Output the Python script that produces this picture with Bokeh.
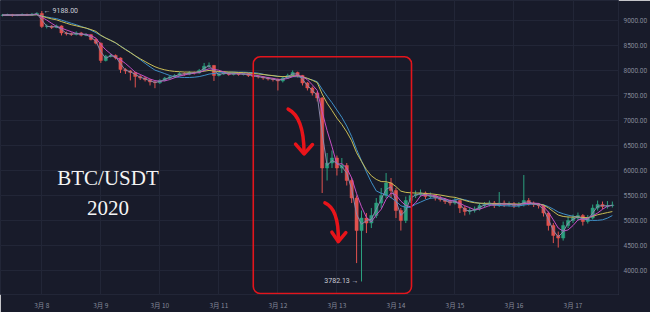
import numpy as np
import pandas as pd
from bokeh.plotting import figure
from bokeh.models import Range1d, FixedTicker, NumeralTickFormatter, BoxAnnotation, ColumnDataSource
from bokeh.core.properties import value
from bokeh.embed import file_html
from bokeh.resources import INLINE

# ---------------- data (2-hour candles, BTC/USDT, March 2020, UTC+8) ----------------
start_time = "2020-03-07 08:00"
first_open = 9100
closes = [9105, 9112, 9098, 9110, 9118, 9106, 9124, 9140, 8880, 8885,
          8860, 8890, 8750, 8735, 8720, 8750, 8705, 8715, 8620, 8545,
          8200, 8285, 8300, 8250, 8020, 7990, 7960, 7880, 7850, 7815,
          7770, 7755, 7800, 7845, 7870, 7900, 7940, 7925, 7960, 7950,
          8000, 8085, 8100, 7900, 7930, 7955, 7920, 7945, 7920, 7935,
          7900, 7880, 7870, 7850, 7830, 7820, 7790, 7850, 7900, 7960,
          7900, 7750, 7650, 7550, 7450, 6050, 6150, 6250, 6050, 6100,
          5800, 5450, 4800, 5050, 4950, 5100, 5350, 5500, 5750, 5600,
          5200, 5000, 5400, 5500, 5520, 5550, 5480, 5500, 5450, 5420,
          5380, 5350, 5400, 5250, 5180, 5200, 5230, 5300, 5320, 5350,
          5300, 5350, 5320, 5330, 5300, 5320, 5400, 5350, 5320, 5300,
          5150, 4900, 4700, 4650, 4900, 5000, 5050, 5100, 4980, 5050,
          5250, 5320, 5280, 5300, 5310]
highs = [9130, 9135, 9130, 9128, 9140, 9135, 9150, 9165, 9188, 8920,
         8905, 8915, 8900, 8775, 8760, 8780, 8770, 8745, 8730, 8640,
         8560, 8310, 8335, 8320, 8260, 8045, 8010, 7975, 7910, 7870,
         7830, 7790, 7825, 7870, 7895, 7925, 7965, 7960, 7985, 7980,
         8030, 8150, 8160, 8110, 7960, 7980, 7970, 7970, 7960, 7955,
         7950, 7920, 7905, 7890, 7870, 7850, 7840, 7880, 7935, 8000,
         7975, 7910, 7770, 7680, 7580, 7470, 6350, 6400, 6300, 6250,
         6150, 5850, 5500, 5200, 5150, 5250, 5450, 5650, 5950, 5850,
         5650, 5250, 5480, 5580, 5600, 5620, 5580, 5560, 5530, 5490,
         5450, 5420, 5460, 5420, 5290, 5260, 5280, 5350, 5370, 5400,
         5390, 5570, 5400, 5380, 5370, 5370, 5910, 5450, 5380, 5350,
         5320, 5180, 4950, 4780, 4980, 5080, 5120, 5160, 5130, 5110,
         5320, 5400, 5380, 5390, 5380]
lows = [9080, 9090, 9075, 9085, 9095, 9090, 9095, 9110, 8850, 8840,
        8830, 8845, 8700, 8700, 8690, 8700, 8680, 8685, 8600, 8520,
        8150, 8180, 8260, 8220, 7950, 7930, 7800, 7660, 7810, 7780,
        7700, 7645, 7730, 7780, 7820, 7850, 7880, 7895, 7905, 7920,
        7935, 7985, 8050, 7790, 7880, 7910, 7895, 7900, 7895, 7900,
        7870, 7850, 7840, 7815, 7800, 7780, 7600, 7760, 7830, 7880,
        7860, 7700, 7600, 7500, 7380, 5550, 5800, 6050, 5900, 5950,
        5700, 5350, 4150, 3782.13, 4750, 4850, 5050, 5250, 5450, 5450,
        5050, 4800, 4950, 5350, 5450, 5480, 5430, 5440, 5400, 5380,
        5330, 5300, 5320, 5150, 5100, 5120, 5160, 5200, 5260, 5280,
        5250, 5270, 5270, 5280, 5250, 5260, 5280, 5300, 5270, 5240,
        5080, 4800, 4550, 4460, 4600, 4850, 4950, 5000, 4900, 4940,
        5020, 5200, 5230, 5240, 5260]
day_labels = ["3月 8", "3月 9", "3月 10", "3月 11", "3月 12",
              "3月 13", "3月 14", "3月 15", "3月 16", "3月 17"]
price_ticks = [4000, 4500, 5000, 5500, 6000, 6500, 7000, 7500, 8000, 8500, 9000]
title_lines = ["BTC/USDT", "2020"]

assert len(closes) == len(highs) == len(lows)

# ---------------- derived ----------------
n = len(closes)
times = pd.date_range(start_time, periods=n, freq="2h")
t0 = pd.Timestamp("2020-03-08")
hrs = ((times - t0) / pd.Timedelta(hours=1)).to_numpy().astype(float)
opens = [first_open] + closes[:-1]
c = pd.Series(closes, dtype=float)
ma_grey = c.rolling(2, min_periods=1).mean()
ma_mag = c.rolling(4, min_periods=1).mean()
ma_yel = c.ewm(span=14, adjust=False).mean()
ma_blue = c.rolling(12, min_periods=1).mean()

up = [cl >= op for op, cl in zip(opens, closes)]
RED = "#e0524f"
GREEN = "#2ba07e"
colors = [GREEN if u else RED for u in up]
src = ColumnDataSource(dict(
    x=hrs, open=opens, close=closes, high=highs, low=lows,
    top=[max(o, cl) for o, cl in zip(opens, closes)],
    bottom=[min(o, cl) for o, cl in zip(opens, closes)],
    color=colors))

BG = "#181b2a"
GRID = "#222637"

X0, X1 = -16.8, 234.5
Y0, Y1 = 3522, 9398
FW, FH = 621, 295

def px(xp):
    return X0 + xp * (X1 - X0) / FW

def py(yp):
    return Y1 - yp * (Y1 - Y0) / FH

p = figure(width=650, height=312, output_backend="svg", toolbar_location=None,
           x_range=Range1d(X0, X1), y_range=Range1d(Y0, Y1),
           y_axis_location="right", min_border_left=0, min_border_top=0,
           min_border_right=29, min_border_bottom=17)
p.background_fill_color = BG
p.border_fill_color = BG
p.outline_line_color = GRID

# axes
p.yaxis.ticker = FixedTicker(ticks=price_ticks)
p.yaxis.formatter = NumeralTickFormatter(format="0.00")
p.xaxis.ticker = FixedTicker(ticks=[24 * i for i in range(len(day_labels))])
p.xaxis.major_label_overrides = {24 * i: lab for i, lab in enumerate(day_labels)}
for ax in (p.xaxis, p.yaxis):
    ax.axis_line_color = None
    ax.major_tick_line_color = None
    ax.minor_tick_line_color = None
    ax.major_tick_out = 0
    ax.major_tick_in = 0
    ax.minor_tick_out = 0
    ax.minor_tick_in = 0
    ax.major_label_standoff = 5
    ax.major_label_text_font_size = "6.5px"
    ax.major_label_text_color = "#858a9a"
p.xaxis.major_label_text_font = "Noto Sans CJK SC"
p.yaxis.major_label_text_font = "Roboto"
p.xgrid.grid_line_color = GRID
p.ygrid.grid_line_color = GRID

# candles
p.segment(x0="x", y0="low", x1="x", y1="high", color="color", line_width=1, source=src)
p.vbar(x="x", top="top", bottom="bottom", width=1.3, fill_color="color",
       line_color="color", line_width=0.5, source=src)

# moving averages
p.line(hrs, ma_blue, line_color="#3f8fc6", line_width=1)
p.line(hrs, ma_yel, line_color="#c9bd55", line_width=1)
p.line(hrs, ma_mag, line_color="#c64fc4", line_width=1)
p.line(hrs, ma_grey, line_color="#8a87aa", line_width=1)

# high / low labels
imax = int(np.argmax(highs))
imin = int(np.argmin(lows))
p.text(x=[hrs[imax]], y=[highs[imax]], text=[f"← {highs[imax]:.2f}"], x_offset=2,
       text_align="left", text_baseline="middle", text_font=value("Roboto"),
       text_font_size="7px", text_color="#c9ccd6")
p.text(x=[hrs[imin]], y=[lows[imin]], text=[f"{lows[imin]:.2f} →"], x_offset=-3,
       text_align="right", text_baseline="middle", text_font=value("Roboto"),
       text_font_size="7px", text_color="#c9ccd6")

# title text
p.text(x=[px(108), px(108)], y=[py(178), py(208)], text=title_lines,
       text_align="center", text_baseline="middle", text_font=value("Liberation Serif"),
       text_font_size="21px", text_color="#f4f4f4")

# red highlight box
box = BoxAnnotation(left=px(254), right=px(413), top=py(56.5), bottom=py(294),
                    fill_alpha=0, line_color="#e3151c", line_alpha=1.0, line_width=1.6,
                    border_radius=7)
p.add_layout(box)

# curved arrows
ARROW = "#e8141a"
p.quadratic(x0=[px(289), px(326)], y0=[py(109), py(203)],
            x1=[px(305), px(339.5)], y1=[py(153), py(241)],
            cx=[px(305), px(340)], cy=[py(117), py(209)],
            line_color=ARROW, line_width=3.5, line_cap="round")
p.line([px(296.5), px(305), px(313.5)], [py(144), py(154), py(144.5)],
       line_color=ARROW, line_width=3.5, line_cap="round", line_join="round")
p.line([px(333), px(339.5), px(347)], [py(232.5), py(242), py(233)],
       line_color=ARROW, line_width=3.5, line_cap="round", line_join="round")

open("out.html", "w").write(file_html(p, INLINE))
